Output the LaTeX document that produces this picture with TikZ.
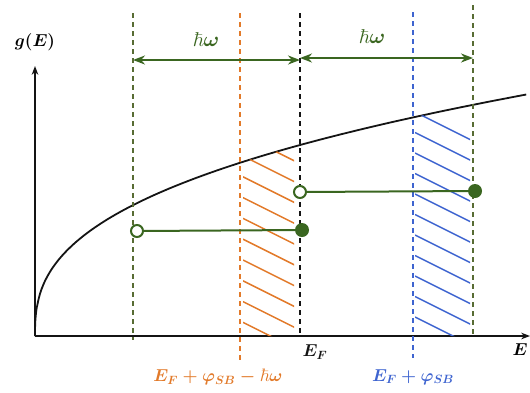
\documentclass[tikz,border=0pt]{standalone}
\usepackage{amsmath, amssymb}
\usepackage{tikz}
\usetikzlibrary{calc, positioning, arrows.meta}
\definecolor{leaf}{RGB}{58,102,32}
\definecolor{olive}{RGB}{88,108,52}
\definecolor{rust}{RGB}{226,122,42}
\definecolor{cobalt}{RGB}{62,100,208}
\definecolor{ink}{RGB}{20,20,20}

\begin{document}
\begin{tikzpicture}[x=1pt, y=-1pt, >=Stealth,
    level/.style={dash pattern=on 5pt off 4pt, line width=1.5pt},
    hatchline/.style={line width=1.5pt},
    opendot/.style={circle, draw=leaf, line width=2pt, fill=white, minimum size=12pt, inner sep=0pt},
    fulldot/.style={circle, fill=leaf, minimum size=14pt, inner sep=0pt},
    lab/.style={font=\fontsize{18}{21}\selectfont\boldmath}]
  \useasboundingbox (0,0) rectangle (530,392);

  % Axes
  \draw[->, ink, line width=1.3pt] (35,336) -- (35,66);
  \draw[->, ink, line width=1.3pt] (35,336) -- (530,336);
  \node[lab, font=\fontsize{19}{22}\selectfont\boldmath] (gE) at (35,42) {$g(E)$};
  \node[lab, anchor=east] (Eax) at (531,350) {$E$};

  % Density of states
  \draw[ink, line width=1.8pt] (35,336) -- plot[domain=0.02:1, samples=120, variable=\u] ({35+493*\u^2.6316}, {336-241.8*\u});

  % Hatched windows
  \begin{scope}
    \clip (35,336) -- plot[domain=0.02:1, samples=120, variable=\u] ({35+493*\u^2.6316}, {336-241.8*\u}) -- (528,336) -- cycle;
    \begin{scope}
      \clip (243,60) rectangle (294,336);
      \foreach \k in {-1,...,8}
        \draw[rust, hatchline] (243,{156+20.8*\k}) -- (303,{186+20.8*\k});
    \end{scope}
    \begin{scope}
      \clip (415,60) rectangle (470,336);
      \foreach \k in {0,...,10}
        \draw[cobalt, hatchline] (415,{112+20.5*\k}) -- (475,{142+20.5*\k});
    \end{scope}
  \end{scope}

  % Energy levels
  \draw[olive, level] (133,13) -- (133,340);
  \draw[rust, level] (240,13) -- (240,360);
  \draw[ink, level] (300,13) -- (300,336);
  \draw[cobalt, level] (413,12) -- (413,358);
  \draw[olive, level] (473,5) -- (473,336);

  % Photon energy spans
  \coordinate (hw1) at (133,60);
  \coordinate (ef1) at (300,60);
  \coordinate (ef2) at (300,58);
  \coordinate (hw2) at (473,58);
  \draw[<->, leaf, line width=2pt] (hw1) -- (ef1);
  \draw[<->, leaf, line width=2pt] (ef2) -- (hw2);
  \node[lab, leaf, font=\fontsize{20}{24}\selectfont\boldmath] (hwL) at (206,40) {$\hbar\omega$};
  \node[lab, leaf, font=\fontsize{20}{24}\selectfont\boldmath] (hwR) at (372,37) {$\hbar\omega$};

  % Transitions
  \node[opendot] (lo1) at (137,231) {};
  \node[fulldot] (hi1) at (302,230) {};
  \node[opendot] (lo2) at (300,192) {};
  \node[fulldot] (hi2) at (475,191) {};
  \draw[leaf, line width=2pt] (lo1) -- (hi1);
  \draw[leaf, line width=2pt] (lo2) -- (hi2);

  % Level labels
  \node[lab, ink] (EF) at (315,352) {$E_F$};
  \node[lab, rust] (EFm) at (218,377) {$E_F+\varphi_{SB}-\hbar\omega$};
  \node[lab, cobalt] (EFp) at (413,377) {$E_F+\varphi_{SB}$};
\end{tikzpicture}
\end{document}
